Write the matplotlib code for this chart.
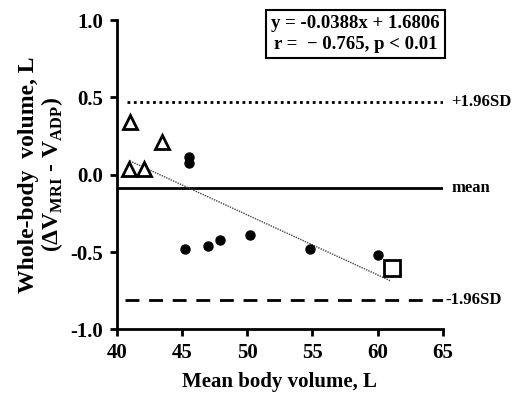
import matplotlib
matplotlib.use("Agg")
import matplotlib.pyplot as plt
import numpy as np

# data
tri_x = [41.0, 40.9, 42.1, 43.5]
tri_y = [0.34, 0.04, 0.04, 0.21]
dot_x = [45.5, 45.5, 45.2, 47.0, 47.9, 50.2, 54.8, 60.0]
dot_y = [0.115, 0.075, -0.48, -0.46, -0.42, -0.39, -0.48, -0.52]
sq_x = [61.1]
sq_y = [-0.60]

slope, intercept = -0.0388, 1.6806
fit_range = [41.0, 61.0]
mean_diff = -0.085
upper_loa = 0.47
lower_loa = -0.81

x_ticks = [40, 45, 50, 55, 60, 65]
y_ticks = [-1.0, -0.5, 0.0, 0.5, 1.0]

plt.rcParams['font.family'] = ['Liberation Serif', 'DejaVu Serif']
plt.rcParams['font.weight'] = 'bold'
plt.rcParams['mathtext.fontset'] = 'custom'
plt.rcParams['mathtext.rm'] = 'Liberation Serif:bold'

fig = plt.figure(figsize=(5.31, 3.95), dpi=100)
ax = fig.add_axes([0.220, 0.166, 0.614, 0.783])

# limits of agreement and mean
ax.plot([40.8, 65], [upper_loa, upper_loa], color='black', lw=2, ls=(0, (1, 1.3)))
ax.plot([40, 65], [mean_diff, mean_diff], color='black', lw=2)
ax.plot([40.6, 65], [lower_loa, lower_loa], color='black', lw=2, ls=(0, (5, 3.5)))

# regression line
fx = np.array(fit_range)
ax.plot(fx, slope * fx + intercept, color='#444444', lw=1, ls=(0, (1, 0.8)))

ax.plot(tri_x, tri_y, ls='none', marker='^', ms=10, mfc='white', mec='black', mew=2)
ax.plot(dot_x, dot_y, ls='none', marker='o', ms=6.5, color='black')
ax.plot(sq_x, sq_y, ls='none', marker='s', ms=11, mfc='white', mec='black', mew=2)

ax.set_xlim(40, 65)
ax.set_ylim(-1.0, 1.0)
ax.set_xticks(x_ticks)
ax.set_yticks(y_ticks)
ax.set_xticklabels([str(t) for t in x_ticks])
ax.set_yticklabels(['%.1f' % t for t in y_ticks])
ax.tick_params(labelsize=15, width=2, length=5, direction='out', pad=5)
for s in ['top', 'right']:
    ax.spines[s].set_visible(False)
for s in ['left', 'bottom']:
    ax.spines[s].set_linewidth(2)

ax.set_xlabel('Mean body volume, L', fontsize=15, fontweight='bold', labelpad=6)
ax.set_ylabel('Whole-body  volume, L\n' + r'($\Delta$V$_{\mathregular{MRI}}$ - V$_{\mathregular{ADP}}$)',
              fontsize=17, fontweight='bold', linespacing=1.0, labelpad=4)

# right side labels
ax.text(65.65, upper_loa, '+1.96SD', fontsize=12, fontweight='bold', va='center', ha='left')
ax.text(65.65, mean_diff, 'mean', fontsize=12, fontweight='bold', va='center', ha='left')
ax.text(65.2, lower_loa, '-1.96SD', fontsize=12, fontweight='bold', va='center', ha='left')

ax.text(0.732, 0.955, 'y = -0.0388x + 1.6806\nr =  \u2212 0.765, p < 0.01',
        transform=ax.transAxes, fontsize=13.5, fontweight='bold', ha='center', va='center',
        linespacing=1.25,
        bbox=dict(boxstyle='square,pad=0.3', fc='white', ec='black', lw=1.5))

fig.savefig('out.png', dpi=100)
